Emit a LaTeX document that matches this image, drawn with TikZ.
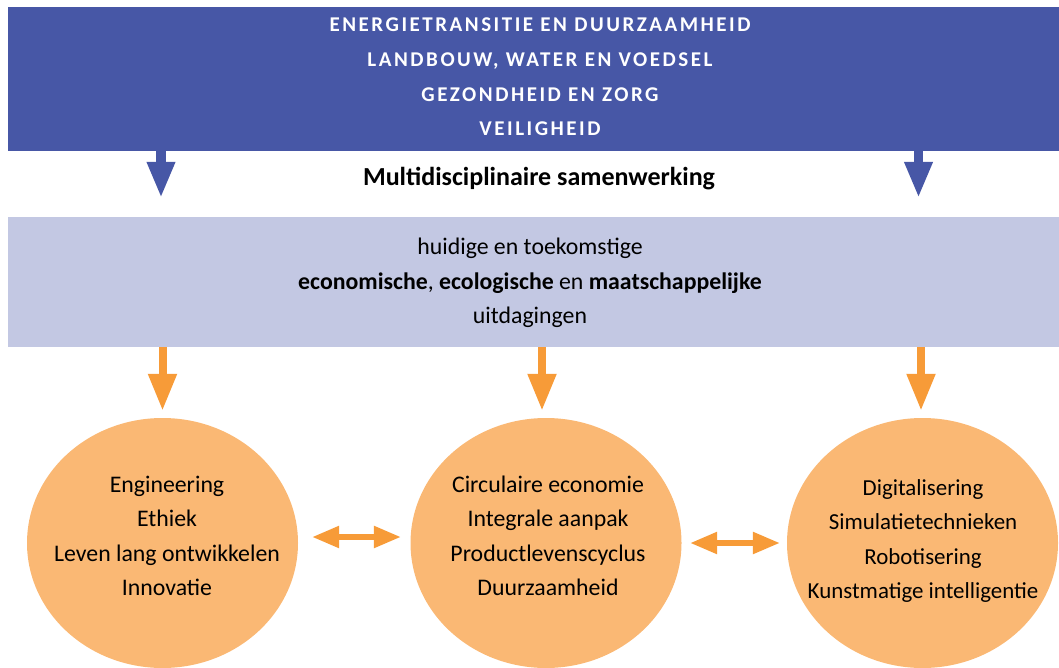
\documentclass[tikz,border=0pt]{standalone}
\usepackage{fontspec}
\setmainfont{Carlito}
\usetikzlibrary{arrows.meta,shapes.geometric,calc}
\definecolor{dblue}{HTML}{4757A6}
\definecolor{lblue}{HTML}{C3C8E3}
\definecolor{oarrow}{HTML}{F79B38}
\definecolor{ocircle}{HTML}{FAB874}
\tikzset{
  band/.style={draw=none, anchor=north west, minimum width=1051pt, inner sep=0pt},
  topic/.style={align=center, text=white, font=\fontsize{21}{34.7}\selectfont\bfseries\addfontfeatures{LetterSpace=12}},
  bodytext/.style={align=center, text=black, font=\fontsize{23.8}{34.4}\selectfont},
  blob/.style={ellipse, fill=ocircle, draw=none, minimum width=271pt, minimum height=250pt, inner sep=0pt},
  bluearrow/.style={draw=dblue, line width=9.5pt, -{Triangle[width=26pt,length=36pt]}},
  orangearrow/.style={draw=oarrow, line width=8pt, -{Triangle[width=27pt,length=37pt]}},
  twoway/.style={draw=oarrow, line width=5.5pt, {Triangle[width=21pt,length=27pt]}-{Triangle[width=21pt,length=27pt]}}
}
\begin{document}
\begin{tikzpicture}[x=1pt,y=-1pt]
\path[use as bounding box] (0,0) rectangle (1059,668);
% bands
\node[band, fill=dblue, minimum height=144pt] (top) at (8,7) {};
\node[band, fill=lblue, minimum height=130pt] (mid) at (8,217) {};
\node[topic] (themes) at (540,77) {ENERGIETRANSITIE EN DUURZAAMHEID\\LANDBOUW, WATER EN VOEDSEL\\GEZONDHEID EN ZORG\\VEILIGHEID};
\node[anchor=base, font=\fontsize{26}{30}\selectfont\bfseries] (multi) at (539,186) {Multidisciplinaire samenwerking};
\node[bodytext] (challenge) at (530,283) {huidige en toekomstige\\\textbf{economische}, \textbf{ecologische} en \textbf{maatschappelijke}\\uitdagingen};
% circles
\node[blob] (c1) at (162.5,543) {};
\node[blob] (c2) at (546,543) {};
\node[blob] (c3) at (922.5,543) {};
\node[bodytext] (t1) at (167,536) {Engineering\\Ethiek\\Leven lang ontwikkelen\\Innovatie};
\node[bodytext] (t2) at (548,536) {Circulaire economie\\Integrale aanpak\\Productlevenscyclus\\Duurzaamheid};
\node[bodytext, font=\fontsize{22.9}{34.2}\selectfont] (t3) at (923,541) {Digitalisering\\Simulatietechnieken\\Robotisering\\Kunstmatige intelligentie};
% arrows
\draw[bluearrow, shorten >=19pt] (top.south -| 161,0) -- (mid.north -| 161,0);
\draw[bluearrow, shorten >=19pt] (top.south -| 918.5,0) -- (mid.north -| 918.5,0);
\draw[orangearrow, shorten >=7pt] (mid.south -| c1) -- (c1.north);
\draw[orangearrow, shorten >=7pt] (mid.south -| 542,0) -- (c2.north -| 542,0);
\draw[orangearrow, shorten >=7pt] (mid.south -| 921,0) -- (c3.north -| 921,0);
\draw[twoway, shorten <=14pt, shorten >=9.5pt] ($(c1.east)+(0,-6)$) -- ($(c2.west)+(0,-6)$);
\draw[twoway, shorten <=8.5pt, shorten >=7pt] (c2.east) -- (c3.west);
\end{tikzpicture}
\end{document}
